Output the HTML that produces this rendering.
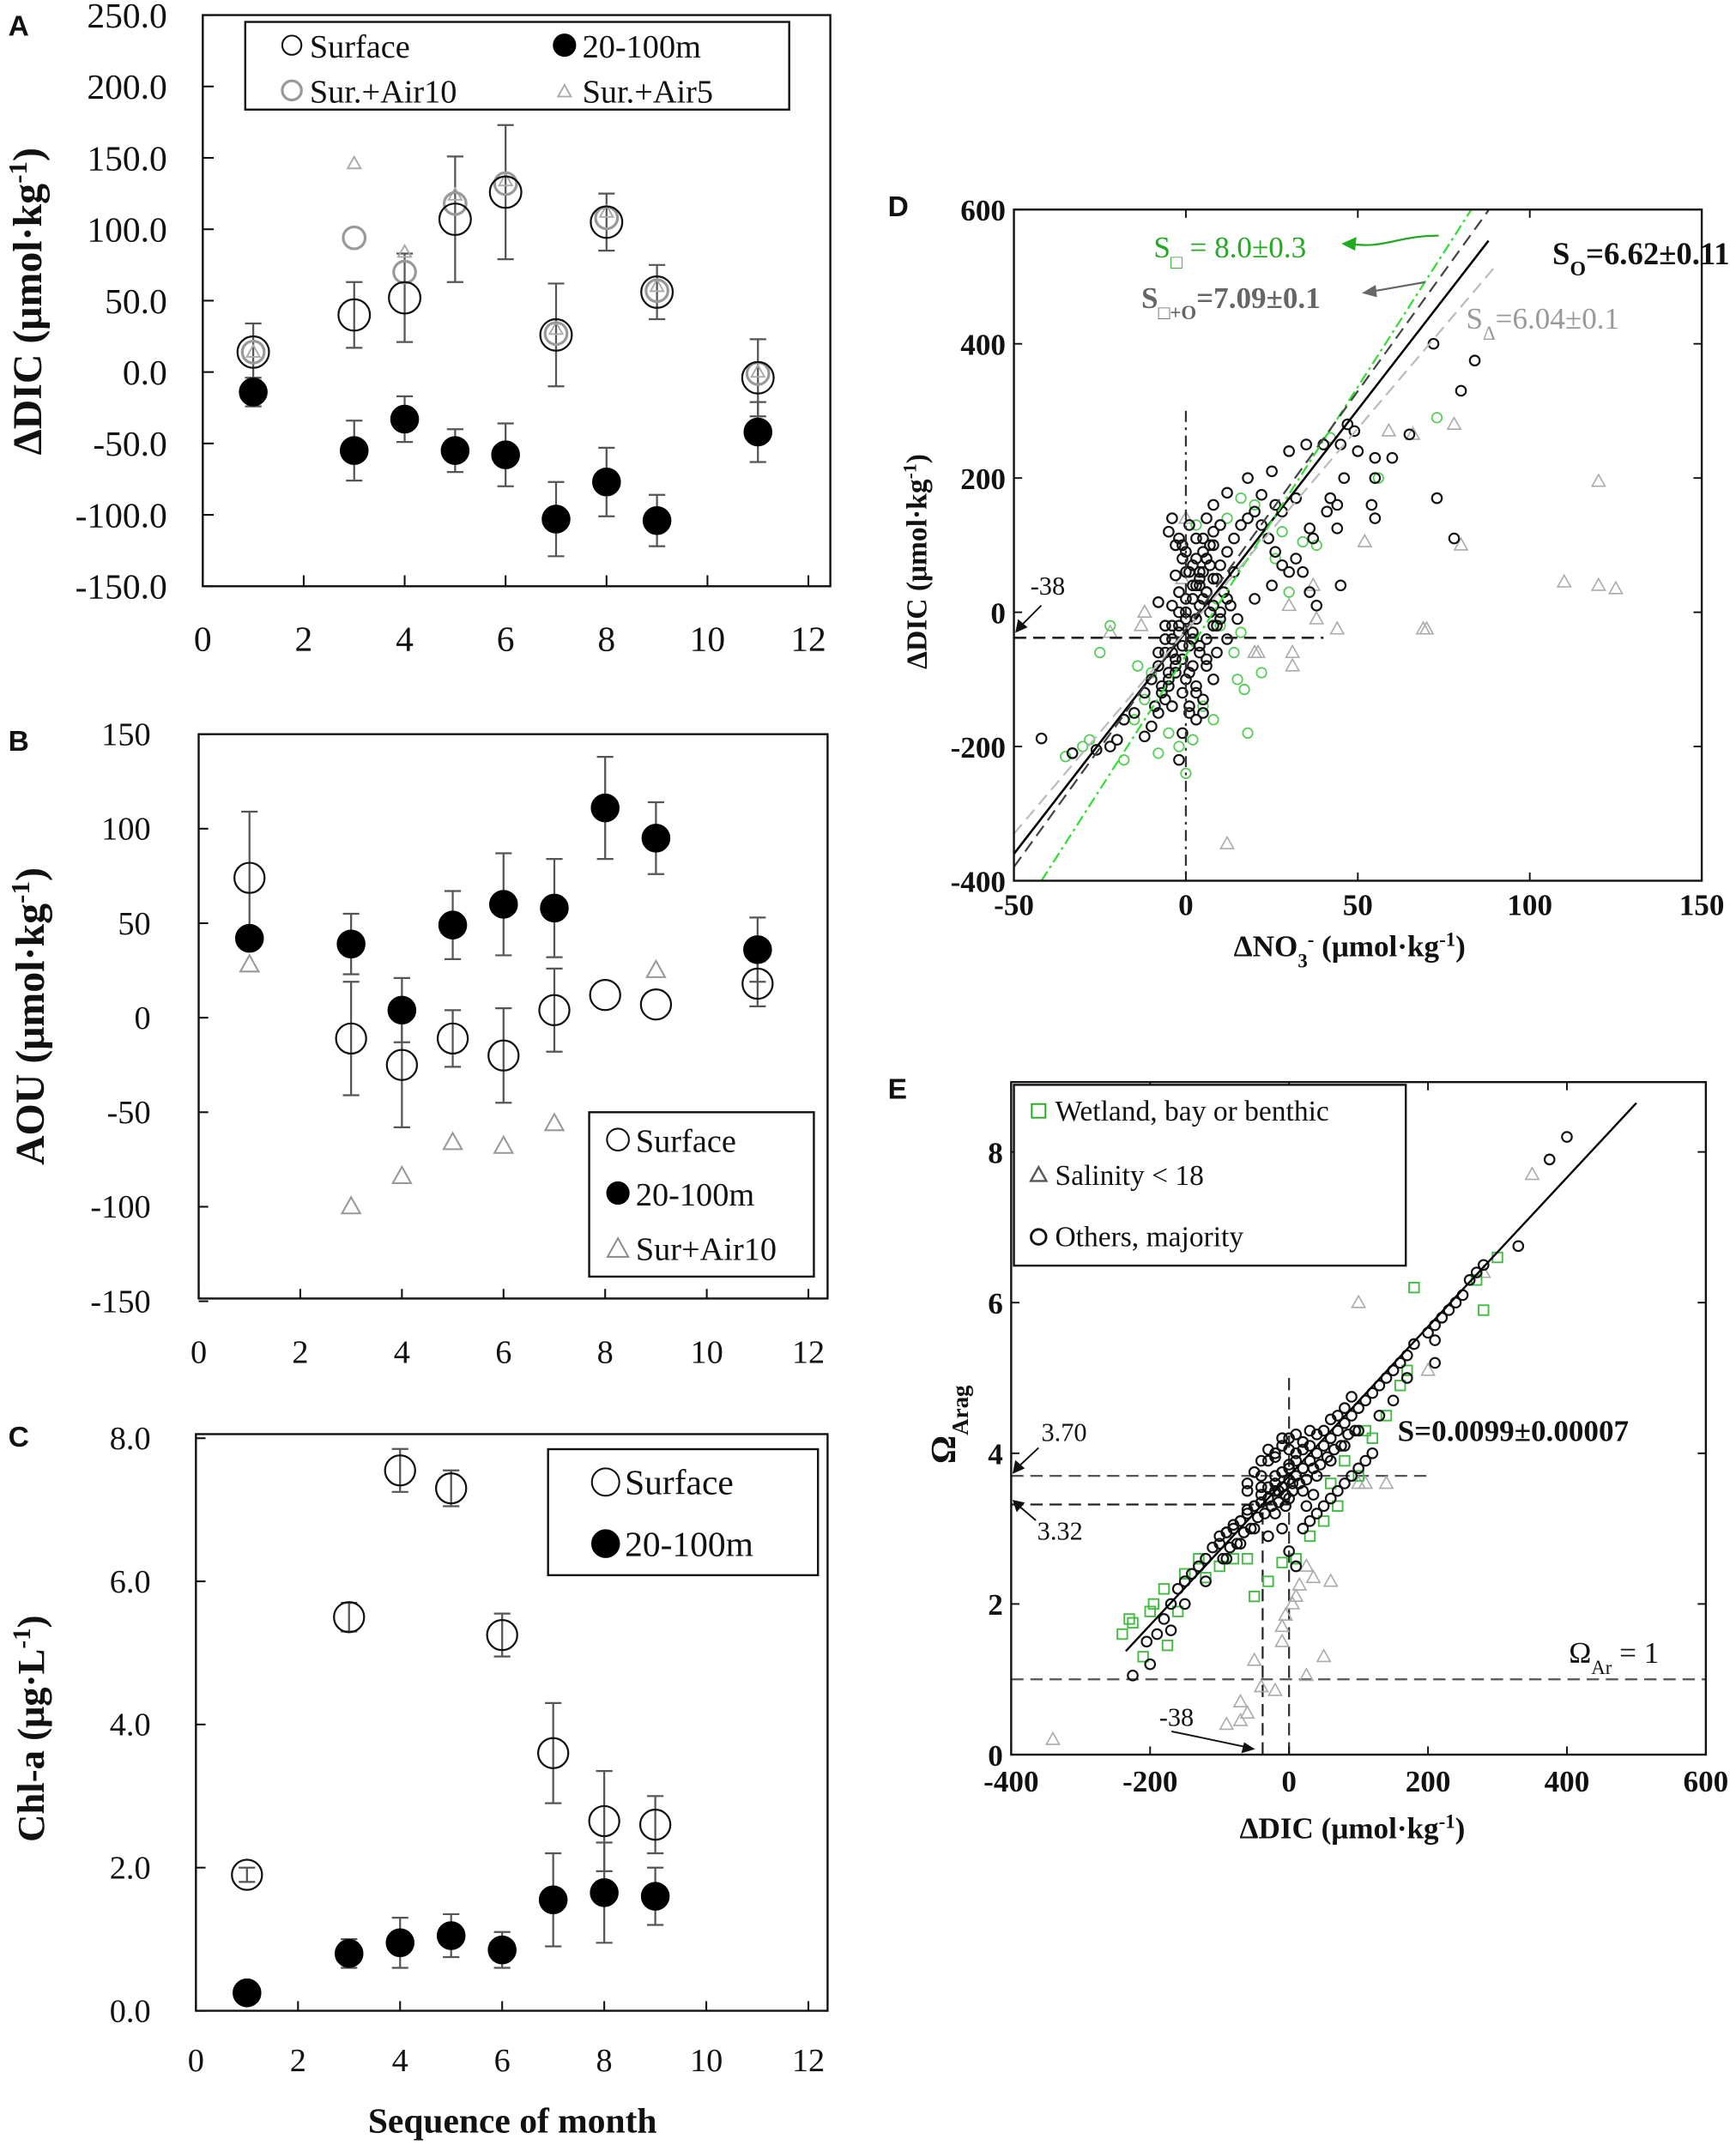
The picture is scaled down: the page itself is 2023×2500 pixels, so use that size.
<!DOCTYPE html>
<html><head><meta charset="utf-8"><style>
html,body{margin:0;padding:0;background:#fff}
svg{display:block}
text{font-family:"Liberation Serif",serif}
.sans{font-family:"Liberation Sans",sans-serif}
</style></head><body>
<svg id="fig" width="2023" height="2500" viewBox="0 0 1267 1566" preserveAspectRatio="none" xmlns="http://www.w3.org/2000/svg"></svg>
<script>
// ---------- Panel A data ----------
const monthsA = [1,3,4,5,6,7,8,9,11];
const surfA = [14,40,52,107,126,26,105,56,-4];
const surfErrA = [20,23,31,44,47,36,20,19,27];
const deepA = [-14,-55,-33,-55,-58,-103,-77,-104,-42];
const deepErrA = [10,21,16,15,22,26,24,18,21];
const air10A = [14,94,70,118,132,27,108,57,-1];
const air5A = [14,146,84,124,134,30,112,60,0];
const yTicksA = [250,200,150,100,50,0,-50,-100,-150];
const xTicksABC = [0,2,4,6,8,10,12];
// ---------- Panel B data ----------
const monthsB = [1,3,4,5,6,7,8,9,11];
const surfB = [74,-11,-25,-11,-20,4,12,7,18];
const surfErrB = [35,30,33,15,25,22,0,0,12];
const deepB = [42,39,4,49,60,58,111,95,36];
const deepErrB = [0,16,17,18,27,26,27,19,17];
const airMonthsB = [1,3,4,5,6,7,9];
const airB = [28,-100,-84,-66,-68,-56,25];
const yTicksB = [150,100,50,0,-50,-100,-150];
// ---------- Panel C data ----------
const monthsC = [1,3,4,5,6,7,8,9];
const surfC = [1.9,5.5,7.55,7.3,5.25,3.6,2.65,2.6];
const surfErrC = [0.1,0.2,0.3,0.25,0.3,0.7,0.7,0.4];
const deepC = [0.25,0.8,0.95,1.05,0.85,1.55,1.65,1.6];
const deepErrC = [0,0.2,0.35,0.3,0.25,0.65,0.7,0.4];
const yTicksC = [8,6,4,2,0];
// ---------- Panel D data ----------
const dBlackX = [-2,0,2,4,5,6,7,8,6,8,3,1,-1,-3,-5,-6,-8,-10,-12,-4,2,4,6,8,10,12,14,10,5,3,0,-2,-4,-6,-8,-10,-12,-15,-18,-20,-22,-26,-33,-42,16,18,20,22,24,26,28,30,32,34,36,38,25,20,15,12,9,6,3,1,-1,-2,12,18,25,30,35,40,45,47,49,50,44,44,41,36,37,42,46,55,55,55,54,60,65,72,80,84,73,78,45,-1,-3,-8,8,5,-4,14,28,32,22,26,
  -5,-3,-1,1,3,5,7,9,-4,-2,0,2,4,6,8,10,-6,-4,-2,0,2,4,6,8,-8,-6,-4,-2,0,2,4,6,1,3,5,7,9,11,13,-7,-5,-3,-1,1,3,5,-9,-7,-5,-3,-1,1,3,0,2,4,6,8,10,12];
const dBlackY = [-30,0,20,40,60,80,100,120,140,160,-10,-50,-70,-90,-110,-130,-150,-170,-185,-60,-40,10,30,50,70,90,110,130,110,80,60,30,10,-20,-60,-100,-120,-150,-160,-190,-200,-205,-210,-188,130,140,150,130,110,90,70,60,80,60,30,10,40,20,-10,-40,-60,-80,-120,-150,-180,-220,178,200,210,240,250,250,250,280,270,240,160,125,150,125,110,170,200,230,200,140,160,230,265,400,330,375,170,110,40,100,55,15,-100,-150,-140,60,150,170,175,160,
  120,100,80,60,40,20,0,-20,140,110,90,70,50,30,10,-10,-40,-20,0,20,40,60,80,100,-80,-60,-40,-20,-10,-30,-50,-70,130,110,90,70,50,30,10,-110,-90,-70,-50,-90,-110,-130,-140,-120,-100,-80,-120,-140,-160,-100,-80,-60,-40,-20,0,20];
const dGreenX = [-22,-25,-30,-35,-28,-18,-15,-12,-5,0,-2,-8,2,5,8,15,17,14,16,22,10,18,4,12,16,20,28,34,38,40,42,56,73,30,26,-10,-14,6,9,3];
const dGreenY = [-20,-60,-200,-215,-190,-220,-160,-130,-180,-240,-200,-210,-190,-140,-160,-100,-115,-60,-30,-90,-20,-180,-50,140,170,160,120,105,100,250,260,200,290,30,80,-90,-80,-40,20,130];
const dTriX = [-13,-12,-22,0,-1,37,38,31,31,21,20,44,52,59,66,69,70,78,80,110,120,125,120,12,30];
const dTriY = [-20,0,-30,140,50,40,-10,-60,-80,-60,-60,-25,105,270,265,-25,-25,280,100,45,40,35,195,-345,10];
const xTicksD = [-50,0,50,100,150];
const yTicksD = [600,400,200,0,-200,-400];
const slopesD = [6.62,8.0,7.09,6.04];
const interceptsD = [-29,-64,-25,-28];
// ---------- Panel E data ----------
const eBlackX = [-225,-200,-205,-190,-180,-170,-160,-150,-140,-130,-120,-110,-100,-90,-80,-70,-60,-50,-40,-30,-20,-10,0,10,20,30,40,50,60,70,80,90,100,110,120,130,140,150,160,170,180,200,210,220,230,240,250,260,270,280,330,375,400,-60,-40,-30,-20,-10,0,10,-50,-30,-10,0,10,20,30,40,50,60,70,80,90,100,110,120,100,130,150,170,210,210,-150,-170,-120,-90,-70,-20,20,40,60,80,-40,-20,0,0,-5,5,15,-15,25,35,
  -100,-90,-80,-70,-60,-50,-40,-30,-20,-10,0,10,20,30,40,50,60,70,80,90,
  -95,-85,-75,-65,-55,-45,-35,-25,-15,-5,5,15,25,35,45,55,65,75,85,95,
  -60,-50,-40,-30,-20,-10,0,10,20,30];
const eBlackY = [1.05,1.2,1.5,1.6,1.8,2.0,2.2,2.3,2.4,2.5,2.6,2.75,2.8,2.95,3.0,3.1,3.2,3.3,3.35,3.4,3.5,3.55,3.65,3.7,3.8,3.9,4.0,4.1,4.2,4.3,4.4,4.5,4.6,4.7,4.8,4.9,5.0,5.1,5.2,5.3,5.45,5.6,5.7,5.8,5.9,6.0,6.1,6.3,6.4,6.5,6.75,7.9,8.2,3.6,3.7,3.9,4.0,4.1,4.2,4.0,3.0,2.9,3.0,2.7,2.5,3.0,3.1,3.2,3.3,3.4,3.5,3.6,3.7,3.8,3.9,4.0,4.3,4.5,4.7,5.0,5.2,5.5,2.0,1.65,2.3,2.6,2.8,3.2,3.5,3.7,3.9,4.1,3.55,3.7,3.8,3.4,3.3,3.6,3.6,3.5,3.3,3.45,
  2.9,2.95,3.05,3.1,3.25,3.3,3.45,3.55,3.6,3.75,3.85,3.9,4.05,4.1,4.25,4.3,4.45,4.5,4.6,4.75,
  2.6,2.75,2.8,2.95,3.0,3.15,3.2,3.3,3.35,3.45,3.5,3.6,3.65,3.8,3.85,3.95,4.05,4.1,4.25,4.3,
  3.5,3.75,3.9,4.05,3.95,4.2,4.05,4.25,4.15,4.3];
const eGreenX = [-240,-230,-225,-210,-200,-195,-180,-175,-160,-150,-130,-120,-100,-80,-60,-50,-30,-10,10,30,50,70,100,110,140,160,170,180,270,300,280,60,80,120];
const eGreenY = [1.6,1.8,1.75,1.3,1.9,2.0,2.2,1.45,1.9,2.4,2.6,2.35,2.5,2.6,2.6,2.1,2.3,2.55,2.6,2.9,3.1,3.3,3.7,4.3,4.5,4.9,5.1,6.2,6.3,6.6,5.9,3.6,3.9,4.2];
const eTriX = [-340,-90,-70,-60,-70,-50,-40,-20,-10,-10,-5,5,10,15,25,35,50,60,25,100,110,140,100,200,350,280];
const eTriY = [0.2,0.4,0.45,0.55,0.7,1.25,0.9,0.85,1.5,1.7,1.85,2.0,2.1,2.25,2.5,2.35,1.3,2.3,1.05,3.6,3.6,3.6,6.0,5.1,7.7,6.4];
const xTicksE = [-400,-200,0,200,400,600];
const yTicksE = [0,2,4,6,8];
const slopeE = 0.0099;
const interceptE = 3.70;

const NS = 'http://www.w3.org/2000/svg';
const svg = document.getElementById('fig');
function mk(tag, attrs, parent){
  const e = document.createElementNS(NS, tag);
  for (const k in attrs) e.setAttribute(k, attrs[k]);
  (parent || svg).appendChild(e);
  return e;
}
function lin(d0,d1,r0,r1){ return v => r0 + (v-d0)*(r1-r0)/(d1-d0); }

function frame(g, x0,y0,x1,y1,name){
  const r = mk('rect',{x:x0,y:y0,width:x1-x0,height:y1-y0,fill:'none',stroke:'#111','stroke-width':1.5},g);
  
  
}
function circle(g,cx,cy,r,fill,stroke,sw,name){
  const c = mk('circle',{cx:cx,cy:cy,r:r,fill:fill,stroke:stroke,'stroke-width':sw},g);
  
  
  return c;
}
function tri(g,cx,cy,s,stroke,sw,name){
  const p = mk('polygon',{points:`${cx},${cy-s} ${cx-s*0.95},${cy+s*0.7} ${cx+s*0.95},${cy+s*0.7}`,fill:'none',stroke:stroke,'stroke-width':sw},g);
  
  
}
function sq(g,cx,cy,s,stroke,name){
  const p = mk('rect',{x:cx-s,y:cy-s,width:2*s,height:2*s,fill:'none',stroke:stroke,'stroke-width':1.2},g);
  
  
}
function txt(g,x,y,s,size,attrs,name){
  const t = mk('text',Object.assign({x:x,y:y,'font-size':size,fill:'#111'},attrs||{}),g);
  t.textContent = s;
  
  
  return t;
}
function errbar(g,x,y0,y1,name){
  const p = mk('path',{d:`M${x},${y0}V${y1}M${x-6},${y0}H${x+6}M${x-6},${y1}H${x+6}`,stroke:'#555','stroke-width':1.4,fill:'none'},g);
  
  
}
function line(g,x1,y1,x2,y2,stroke,sw,dash,name){
  const l = mk('line',{x1:x1,y1:y1,x2:x2,y2:y2,stroke:stroke,'stroke-width':sw},g);
  if (dash) l.setAttribute('stroke-dasharray', dash);
  
  
}
function panelLabel(x,y,s){
  txt(svg,x,y,s,21,{'font-weight':'bold',class:'sans'},'panel-label-'+s.toLowerCase());
}
function rotLabel(g,x,y,size,parts,name){
  const t = mk('text',{x:0,y:0,'font-size':size,'font-weight':'bold',fill:'#111','text-anchor':'middle',transform:`translate(${x},${y}) rotate(-90)`},g);
  
  
  parts.forEach(p=>{ const s = mk('tspan',p.sup?{'baseline-shift':'super','font-size':size*0.65}:(p.sub?{'baseline-shift':'sub','font-size':size*0.65}:{}),t); s.textContent=p.t; });
}
function htxt(g,x,y,size,parts,attrs,name){
  const t = mk('text',Object.assign({x:x,y:y,'font-size':size,fill:'#111'},attrs||{}),g);
  
  
  parts.forEach(p=>{ const s = mk('tspan',p.sup?{'baseline-shift':'super','font-size':size*0.65}:(p.sub?{'baseline-shift':'sub','font-size':size*0.65}:{}),t); s.textContent=p.t; });
  return t;
}

// ===== Panel A =====
(function(){
  const g = mk('g',{});
  
  
  const X = lin(0,12,148,590), Y = lin(250,-150,11,428);
  frame(g,148,11,606,428,'panel-a-frame');
  yTicksA.forEach(v=>{ txt(g,122,Y(v)+9,v.toFixed(1),26,{'text-anchor':'end'},'y-tick-label'); line(g,148,Y(v),156,Y(v),'#111',1.3,null,'y-tick'); });
  xTicksABC.forEach(v=>{ txt(g,X(v),475,String(v),26,{'text-anchor':'middle'},'x-tick-label'); line(g,X(v),428,X(v),420,'#111',1.3,null,'x-tick'); });
  rotLabel(g,30,220,30,[{t:'ΔDIC (μmol·kg'},{t:'-1',sup:1},{t:')'}],'y-axis-title');
  monthsA.forEach((m,i)=>{
    errbar(g,X(m),Y(surfA[i]+surfErrA[i]),Y(surfA[i]-surfErrA[i]),'surface-error-bar');
    errbar(g,X(m),Y(deepA[i]+deepErrA[i]),Y(deepA[i]-deepErrA[i]),'deep-error-bar');
  });
  monthsA.forEach((m,i)=>{
    tri(g,X(m),Y(air5A[i]),5,'#aaa',1.2,'air5-point');
    circle(g,X(m),Y(air10A[i]),8,'none','#999',2,'air10-point');
    circle(g,X(m),Y(surfA[i]),11.5,'none','#111',1.4,'surface-point');
    circle(g,X(m),Y(deepA[i]),10,'#000','#000',1,'deep-point');
  });
  const lg = mk('g',{},g);
  
  
  frame(lg,179,16,576,80,'legend-box');
  circle(lg,213,33,7,'none','#111',1.3,'legend-surface-marker'); txt(lg,226,42,'Surface',24,{},'legend-surface');
  circle(lg,412,33,8,'#000','#000',1,'legend-deep-marker'); txt(lg,425,42,'20-100m',24,{},'legend-deep');
  circle(lg,213,66,7,'none','#999',2,'legend-air10-marker'); txt(lg,226,75,'Sur.+Air10',24,{},'legend-air10');
  tri(lg,412,67,5,'#aaa',1.2,'legend-air5-marker'); txt(lg,425,75,'Sur.+Air5',24,{},'legend-air5');
  panelLabel(6,26,'A');
})();

// ===== Panel B =====
(function(){
  const g = mk('g',{});
  
  
  const X = lin(0,12,145,590), Y = lin(150,-150,536,950);
  frame(g,145,536,604,948,'panel-b-frame');
  yTicksB.forEach(v=>{ txt(g,110,Y(v)+8,String(v),24,{'text-anchor':'end'},'y-tick-label'); line(g,145,Y(v),152,Y(v),'#111',1.3,null,'y-tick'); });
  xTicksABC.forEach(v=>{ txt(g,X(v),995,String(v),24,{'text-anchor':'middle'},'x-tick-label'); line(g,X(v),948,X(v),941,'#111',1.3,null,'x-tick'); });
  rotLabel(g,32,742,30,[{t:'AOU (μmol·kg'},{t:'-1',sup:1},{t:')'}],'y-axis-title');
  monthsB.forEach((m,i)=>{
    if (surfErrB[i]>0) errbar(g,X(m),Y(surfB[i]+surfErrB[i]),Y(surfB[i]-surfErrB[i]),'surface-error-bar');
    if (deepErrB[i]>0) errbar(g,X(m),Y(deepB[i]+deepErrB[i]),Y(deepB[i]-deepErrB[i]),'deep-error-bar');
  });
  airMonthsB.forEach((m,i)=>tri(g,X(m),Y(airB[i]),7,'#999',1.3,'air10-point'));
  monthsB.forEach((m,i)=>{
    circle(g,X(m),Y(surfB[i]),11,'none','#111',1.4,'surface-point');
    circle(g,X(m),Y(deepB[i]),10,'#000','#000',1,'deep-point');
  });
  const lg = mk('g',{},g);
  
  
  frame(lg,430,812,594,932,'legend-box');
  circle(lg,451,832,8,'none','#111',1.3,'legend-surface-marker'); txt(lg,464,841,'Surface',24,{},'legend-surface');
  circle(lg,451,871,8,'#000','#000',1,'legend-deep-marker'); txt(lg,464,880,'20-100m',24,{},'legend-deep');
  tri(lg,451,912,8,'#888',1.2,'legend-air10-marker'); txt(lg,464,920,'Sur+Air10',24,{},'legend-air10');
  panelLabel(6,548,'B');
})();

// ===== Panel C =====
(function(){
  const g = mk('g',{});
  
  
  const X = lin(0,12,143,590), Y = lin(8,0,1050,1468);
  frame(g,143,1047,604,1468,'panel-c-frame');
  yTicksC.forEach(v=>{ txt(g,110,Y(v)+8,v.toFixed(1),24,{'text-anchor':'end'},'y-tick-label'); line(g,143,Y(v),150,Y(v),'#111',1.3,null,'y-tick'); });
  xTicksABC.forEach(v=>{ txt(g,X(v),1512,String(v),24,{'text-anchor':'middle'},'x-tick-label'); line(g,X(v),1468,X(v),1461,'#111',1.3,null,'x-tick'); });
  rotLabel(g,32,1262,28,[{t:'Chl-a (μg·L'},{t:'-1',sup:1},{t:')'}],'y-axis-title');
  txt(g,374,1557,'Sequence of month',26,{'text-anchor':'middle','font-weight':'bold'},'x-axis-title');
  monthsC.forEach((m,i)=>{
    errbar(g,X(m),Y(surfC[i]+surfErrC[i]),Y(surfC[i]-surfErrC[i]),'surface-error-bar');
    if (deepErrC[i]>0) errbar(g,X(m),Y(deepC[i]+deepErrC[i]),Y(deepC[i]-deepErrC[i]),'deep-error-bar');
  });
  monthsC.forEach((m,i)=>{
    circle(g,X(m),Y(surfC[i]),11,'none','#111',1.4,'surface-point');
    circle(g,X(m),Y(deepC[i]),10,'#000','#000',1,'deep-point');
  });
  const lg = mk('g',{},g);
  
  
  frame(lg,400,1058,597,1150,'legend-box');
  circle(lg,442,1082,10,'none','#111',1.3,'legend-surface-marker'); txt(lg,456,1091,'Surface',26,{},'legend-surface');
  circle(lg,442,1127,10,'#000','#000',1,'legend-deep-marker'); txt(lg,456,1136,'20-100m',26,{},'legend-deep');
  panelLabel(6,1056,'C');
})();

// ===== Panel D =====
(function(){
  const g = mk('g',{});
  
  
  const X = lin(-50,150,740,1242), Y = lin(600,-400,153,643);
  const clip = mk('clipPath',{id:'clipD'},g); mk('rect',{x:740,y:153,width:502,height:490},clip);
  const inner = mk('g',{'clip-path':'url(#clipD)'},g);
  frame(g,740,153,1242,643,'panel-d-frame');
  yTicksD.forEach(v=>{ txt(g,734,Y(v)+8,String(v),22,{'text-anchor':'end','font-weight':'bold'},'y-tick-label'); line(g,740,Y(v),746,Y(v),'#111',1.2,null,'y-tick'); line(g,1242,Y(v),1236,Y(v),'#111',1.2,null,'y-tick-right'); });
  xTicksD.forEach(v=>{ txt(g,X(v),668,String(v),22,{'text-anchor':'middle','font-weight':'bold'},'x-tick-label'); line(g,X(v),643,X(v),637,'#111',1.2,null,'x-tick'); line(g,X(v),153,X(v),159,'#111',1.2,null,'x-tick-top'); });
  rotLabel(g,676,410,21,[{t:'ΔDIC (μmol·kg'},{t:'-1',sup:1},{t:')'}],'y-axis-title');
  htxt(g,985,698,22,[{t:'ΔNO'},{t:'3',sub:1},{t:'-',sup:1},{t:' (μmol·kg'},{t:'-1',sup:1},{t:')'}],{'text-anchor':'middle','font-weight':'bold'},'x-axis-title');
  dTriX.forEach((x,i)=>tri(inner,X(x),Y(dTriY[i]),5,'#aaa',1,'salinity-point'));
  dGreenX.forEach((x,i)=>circle(inner,X(x),Y(dGreenY[i]),3.6,'none','#5c5',1.1,'wetland-point'));
  dBlackX.forEach((x,i)=>circle(inner,X(x),Y(dBlackY[i]),3.6,'none','#111',1.35,'other-point'));
  line(inner,X(0),Y(300),X(0),Y(-400),'#333',1.4,'8,4,2,4','zero-no3-line');
  line(inner,X(-50),Y(-38),X(40),Y(-38),'#222',1.6,'9,5','dic-minus38-line');
  const styles = [['#000',1.6,null,'fit-others'],['#3d3',1.4,'8,3,2,3','fit-wetland'],['#444',1.4,'9,5','fit-combined'],['#bbb',1.4,'9,5','fit-salinity']];
  const xEnds = [88,83,88,90];
  slopesD.forEach((s,i)=>{
    const xs = Math.max(-50,(-400-interceptsD[i])/s);
    const st = styles[i];
    line(inner,X(xs),Y(interceptsD[i]+s*xs),X(xEnds[i]),Y(interceptsD[i]+s*xEnds[i]),st[0],st[1],st[2],st[3]);
  });
  htxt(g,842,188,22,[{t:'S'},{t:'□',sub:1},{t:' = 8.0±0.3'}],{fill:'#2a2'},'slope-wetland-label');
  const a1 = mk('path',{d:'M1050,172 C1020,172 1010,182 985,178',stroke:'#2a2','stroke-width':1.4,fill:'none'},g);
   
  mk('polygon',{points:'979,178 990,173 989,183',fill:'#2a2'},g);
  htxt(g,1133,193,23,[{t:'S'},{t:'O',sub:1},{t:'=6.62±0.11'}],{'font-weight':'bold'},'slope-others-label');
  htxt(g,833,225,22,[{t:'S'},{t:'□+O',sub:1},{t:'=7.09±0.1'}],{fill:'#666','font-weight':'bold'},'slope-combined-label');
  const a2 = mk('path',{d:'M1040,206 L1000,213',stroke:'#666','stroke-width':1.4,fill:'none'},g);
   
  mk('polygon',{points:'994,214 1004,208 1005,217',fill:'#666'},g);
  htxt(g,1070,240,22,[{t:'S'},{t:'Δ',sub:1},{t:'=6.04±0.1'}],{fill:'#999'},'slope-salinity-label');
  txt(g,752,434,'-38',19,{},'minus38-label');
  const a3 = mk('path',{d:'M760,442 L744,458',stroke:'#111','stroke-width':1.2,fill:'none'},g);
   
  mk('polygon',{points:'741,462 743,452 750,458',fill:'#111'},g);
  panelLabel(648,158,'D');
})();

// ===== Panel E =====
(function(){
  const g = mk('g',{});
  
  
  const X = lin(-400,600,738,1245), Y = lin(0,8,1281,841);
  const clip = mk('clipPath',{id:'clipE'},g); mk('rect',{x:738,y:790,width:507,height:491},clip);
  const inner = mk('g',{'clip-path':'url(#clipE)'},g);
  frame(g,738,790,1245,1281,'panel-e-frame');
  yTicksE.forEach(v=>{ txt(g,732,Y(v)+8,String(v),22,{'text-anchor':'end','font-weight':'bold'},'y-tick-label'); line(g,738,Y(v),744,Y(v),'#111',1.2,null,'y-tick'); line(g,1245,Y(v),1239,Y(v),'#111',1.2,null,'y-tick-right'); });
  xTicksE.forEach(v=>{ txt(g,X(v),1308,String(v),22,{'text-anchor':'middle','font-weight':'bold'},'x-tick-label'); line(g,X(v),1281,X(v),1275,'#111',1.2,null,'x-tick'); line(g,X(v),790,X(v),796,'#111',1.2,null,'x-tick-top'); });
  rotLabel(g,697,1040,26,[{t:'Ω'},{t:'Arag',sub:1}],'y-axis-title');
  htxt(g,987,1342,22,[{t:'ΔDIC (μmol·kg'},{t:'-1',sup:1},{t:')'}],{'text-anchor':'middle','font-weight':'bold'},'x-axis-title');
  line(inner,X(-400),Y(3.70),X(200),Y(3.70),'#555',1.4,'9,5','omega-370-line');
  line(inner,X(-400),Y(3.32),X(0),Y(3.32),'#222',1.4,'9,5','omega-332-line');
  line(inner,X(-400),Y(1),X(600),Y(1),'#555',1.4,'9,5','omega-1-line');
  line(inner,X(0),Y(0),X(0),Y(5),'#333',1.4,'9,5','zero-dic-line');
  line(inner,X(-38),Y(0),X(-38),Y(3.32),'#222',1.4,'9,5','minus38-line');
  eTriX.forEach((x,i)=>tri(inner,X(x),Y(eTriY[i]),5,'#aaa',1,'salinity-point'));
  eGreenX.forEach((x,i)=>sq(inner,X(x),Y(eGreenY[i]),3.6,'#4b4','wetland-point'));
  eBlackX.forEach((x,i)=>circle(inner,X(x),Y(eBlackY[i]),3.6,'none','#111',1.35,'other-point'));
  line(inner,X(-235),Y(interceptE+slopeE*-235),X(500),Y(interceptE+slopeE*500),'#000',1.5,null,'fit-line');
  txt(g,1020,1052,'S=0.0099±0.00007',22,{'font-weight':'bold'},'slope-label');
  htxt(g,1145,1214,22,[{t:'Ω'},{t:'Ar',sub:1},{t:' = 1'}],{},'omega-1-label');
  txt(g,760,1052,'3.70',19,{},'label-370');
  txt(g,757,1124,'3.32',19,{},'label-332');
  txt(g,846,1260,'-38',19,{},'label-minus38');
  const ar = mk('path',{d:'M758,1057 L742,1072 M742,1098 L756,1110 M855,1264 L912,1276',stroke:'#111','stroke-width':1.2,fill:'none'},g);
   
  mk('polygon',{points:'739,1076 741,1066 748,1072',fill:'#111'},g);
  mk('polygon',{points:'739,1095 748,1097 742,1104',fill:'#111'},g);
  mk('polygon',{points:'916,1277 906,1280 908,1272',fill:'#111'},g);
  const lg = mk('g',{},g);
  
  
  mk('rect',{x:740,y:792,width:286,height:132,fill:'#fff'},lg);
  frame(lg,740,792,1026,924,'legend-box');
  sq(lg,758,811,5,'#2a2','legend-wetland-marker'); txt(lg,770,818,'Wetland, bay or benthic',21,{},'legend-wetland');
  tri(lg,758,858,6,'#555',1.5,'legend-salinity-marker'); txt(lg,770,865,'Salinity < 18',21,{},'legend-salinity');
  circle(lg,758,903,5.5,'none','#111',1.8,'legend-others-marker'); txt(lg,770,910,'Others, majority',21,{},'legend-others');
  panelLabel(648,802,'E');
})();
</script>
</body></html>
